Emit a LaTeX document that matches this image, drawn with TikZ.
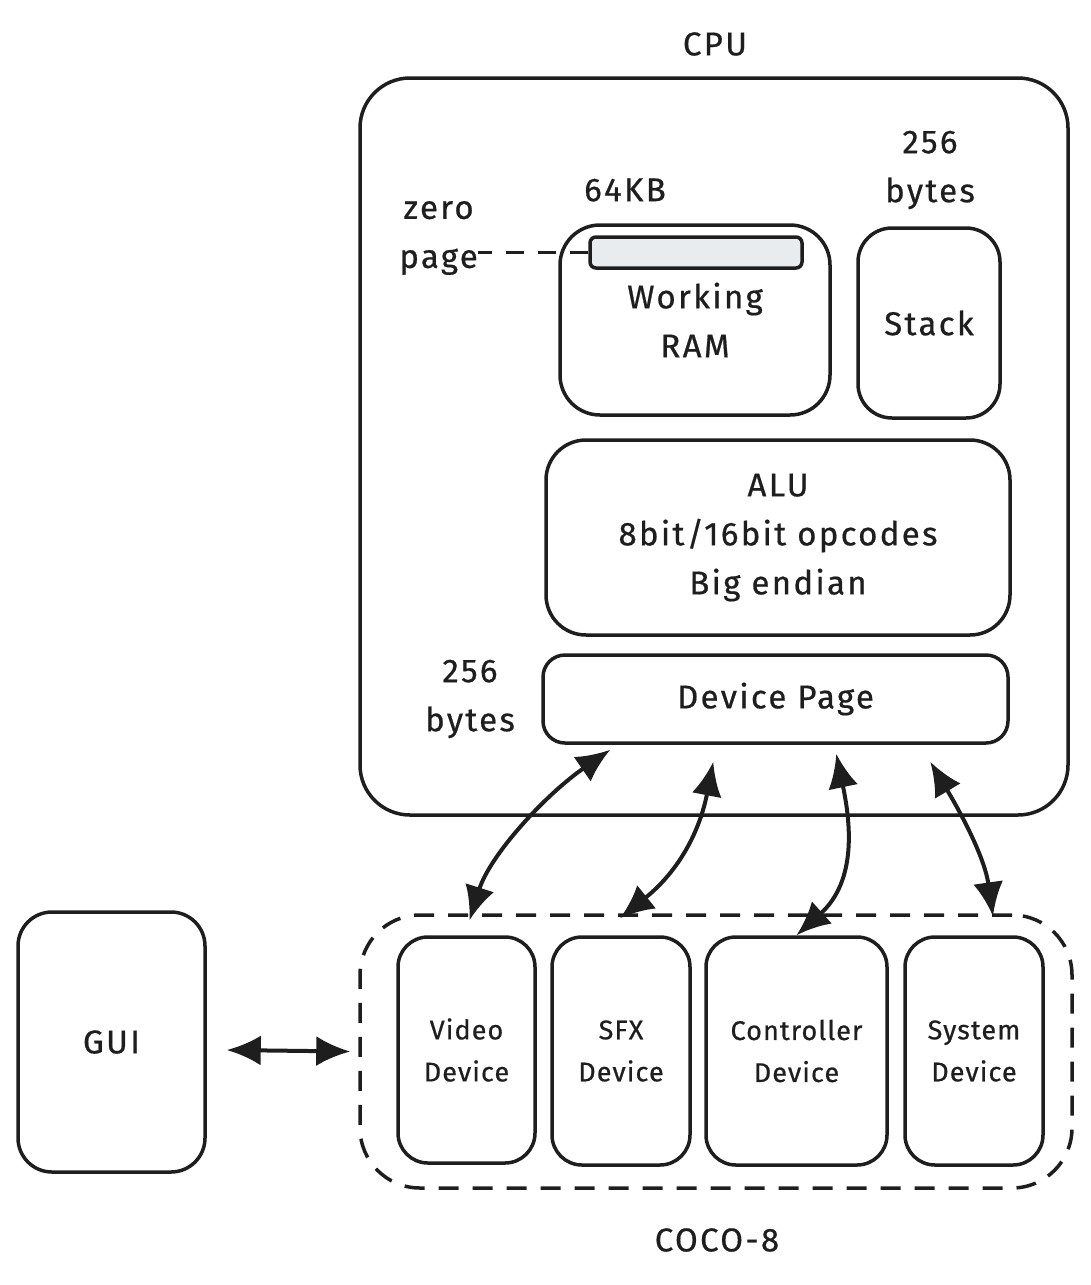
\documentclass[tikz,border=0pt]{standalone}
\usepackage{fontspec}
\setmainfont{Fira Sans}[FakeBold=0.6]
\usetikzlibrary{arrows.meta}
\definecolor{ink}{HTML}{1E1E1E}
\definecolor{barfill}{HTML}{E9ECEF}
\begin{document}
\begin{tikzpicture}[x=1pt,y=-1pt,
  box/.style={draw=ink, line width=3.5pt, rounded corners=#1, align=center, inner sep=0pt, text=ink},
  box/.default=36pt,
  big/.style={font=\fontsize{33}{49}\selectfont\addfontfeatures{LetterSpace=7}},
  small/.style={font=\fontsize{27}{42}\selectfont\addfontfeatures{LetterSpace=4}},
  lbl/.style={text=ink, align=center, inner sep=0pt},
  conn/.style={draw=ink, line width=4pt, {Latex[length=34pt,width=30pt]}-{Latex[length=34pt,width=30pt]}},
]
\useasboundingbox (0,0) rectangle (1091,1285);

% CPU
\node[box=50pt, minimum width=708pt, minimum height=737pt] (cpu) at (714,446.5) {};
\node[lbl, big] (cpulbl) at (715,44) {CPU};

% Working RAM
\node[box=40pt, big, minimum width=270pt, minimum height=190pt] (ram) at (695,320) {Working\\RAM};
\node[draw=ink, line width=3.5pt, fill=barfill, rounded corners=6pt, minimum width=212pt, minimum height=31pt, inner sep=0pt] (bar) at (696,252.5) {};
\node[lbl, big] (kb) at (625,190) {64KB};
\node[lbl, big, anchor=east] (zp) at (478,238) {zero\\page};
\draw[ink, line width=3.5pt, dash pattern=on 18pt off 14pt] (bar.west) -- (bar.west -| zp.east);

% Stack
\node[box=34pt, big, minimum width=142pt, minimum height=190pt] (stack) at (929,323) {Stack};
\node[lbl, big] (sb) at (930,170) {256\\bytes};

% ALU
\node[box=40pt, big, minimum width=464pt, minimum height=195pt] (alu) at (778,537.5) {ALU\\8bit/16bit opcodes\\Big endian};

% Device page
\node[box=22pt, big, minimum width=465pt, minimum height=88pt] (dev) at (775.5,699) {Device Page};
\node[lbl, big] (db) at (470,699) {256\\bytes};

% COCO-8 group
\node[draw=ink, line width=3.5pt, dash pattern=on 20pt off 14pt, rounded corners=60pt, minimum width=712pt, minimum height=273pt, inner sep=0pt] (grp) at (716,1051.5) {};
\node[lbl, big] (coco) at (717,1240) {COCO-8};

% Devices
\node[box=30pt, small, minimum width=137pt, minimum height=226pt] (video) at (466.5,1050) {Video\\Device};
\node[box=30pt, small, minimum width=138pt, minimum height=228pt] (sfx) at (621,1051) {SFX\\Device};
\node[box=30pt, small, minimum width=181pt, minimum height=228pt] (ctrl) at (796.5,1051) {Controller\\Device};
\node[box=30pt, small, minimum width=138pt, minimum height=228pt] (sys) at (974,1051) {System\\Device};

% GUI
\node[box=34pt, big, minimum width=187pt, minimum height=260pt] (gui) at (111.5,1042) {GUI};

% connectors
\draw[conn] ([shift={(20,8)}]gui.east) -- ([xshift=-8pt]grp.west);
\draw[conn] ([shift={(69,5)}]dev.south west) .. controls (545,795) and (490,855) .. ([shift={(3,-15)}]video.north);
\draw[conn] ([shift={(172,17)}]dev.south west) .. controls (700,830) and (680,870) .. ([shift={(-1,-17)}]sfx.north);
\draw[conn] ([shift={(295,9)}]dev.south west) .. controls (850,820) and (858,880) .. (ctrl.north);
\draw[conn] ([shift={(389,17)}]dev.south west) .. controls (965,820) and (985,860) .. ([shift={(19,-19)}]sys.north);
\end{tikzpicture}
\end{document}
